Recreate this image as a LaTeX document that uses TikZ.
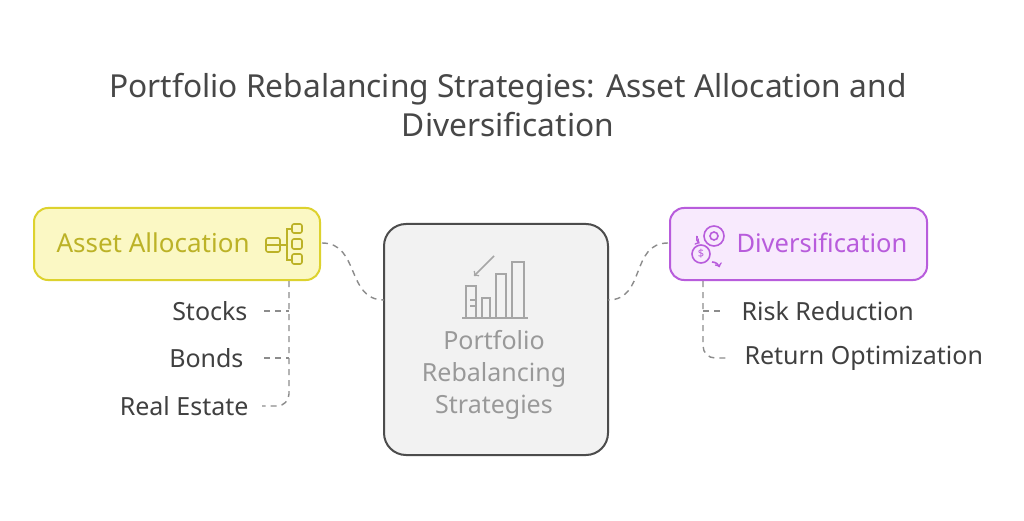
\documentclass[tikz,border=0pt]{standalone}
\usepackage{fontspec}
\setmainfont{Noto Sans}
\begin{document}
\begin{tikzpicture}[x=1pt,y=-1pt,
  lbl/.style={font=\fontsize{25}{27}\selectfont,text=black!75},
  conn/.style={draw=black!45,line width=1.4pt,dash pattern=on 6pt off 5pt},
  ic/.style={line width=1.6pt}]
\useasboundingbox[fill=white] (0,0) rectangle (1024,521);
\node[font=\fontsize{31.7}{39}\selectfont,text=black!72,align=center] (title) at (508,105) {Portfolio Rebalancing Strategies: Asset Allocation and\\Diversification};
\definecolor{yb}{HTML}{DDD22E}\definecolor{yf}{HTML}{FBF8C4}
\definecolor{pb}{HTML}{B85CDC}\definecolor{pf}{HTML}{F8EAFD}
\node[draw=yb,fill=yf,line width=2pt,rounded corners=14pt,minimum width=286pt,minimum height=72pt] (aa) at (177,244) {};
\node[font=\fontsize{26}{28}\selectfont,text=yb!85!black,anchor=west] (aat) at (53,243) {Asset Allocation};
\node[draw=black!70,fill=black!5,line width=2pt,rounded corners=22pt,minimum width=224pt,minimum height=231pt] (c) at (496,339.5) {};
\node[draw=pb,fill=pf,line width=2pt,rounded corners=14pt,minimum width=257pt,minimum height=72pt] (dv) at (798.5,244) {};
\node[font=\fontsize{25.5}{28}\selectfont,text=pb,anchor=west] (dvt) at (733,243) {Diversification};
\node[font=\fontsize{25}{32}\selectfont,text=black!40,align=center] (ct) at (494,375) {Portfolio\\Rebalancing\\Strategies};
% AA icon
\begin{scope}[draw=yb!85!black,ic]
\draw[rounded corners=2pt] (266,238) rectangle (280,252); \draw (266,245)--(280,245);
\draw (280,245)--(287,245); \draw (292,229)--(287,229)--(287,260)--(292,260);
\draw[rounded corners=2pt] (292,224) rectangle (302,233);\draw[rounded corners=2pt] (292,239) rectangle (302,249);\draw[rounded corners=2pt] (292,254) rectangle (302,264);
\end{scope}
% Div icon
\begin{scope}[draw=pb,ic]
\draw (714,236) circle (10); \draw (714,236) circle (4);
\draw (701,254) circle (9); \node[text=pb,font=\bfseries\fontsize{11}{11}\selectfont] (dl) at (701,254) {\$};
\draw[->] (697,236) arc (200:120:6);
\draw[->] (712,262) arc (-90:-20:8);
\end{scope}
% centre icon
\begin{scope}[draw=black!35,ic]
\draw (466,318)--(466,286)--(476,286)--(476,318);
\draw (482,318)--(482,298)--(490,298)--(490,318);
\draw (496,318)--(496,274)--(506,274)--(506,318);
\draw (512,318)--(512,262)--(524,262)--(524,318);
\draw (462,318)--(528,318);
\draw[->] (494,256)--(474,276);
\draw (470,300)--(476,300) (470,306)--(476,306);
\end{scope}
% connectors
\coordinate (a1) at (322,243); \coordinate (c1) at (384,300);
\draw[conn] (a1) .. controls (360,243) and (346,300) .. (c1);
\coordinate (d1) at (668,243); \coordinate (c2) at (608,300);
\draw[conn] (d1) .. controls (630,243) and (646,300) .. (c2);
\node[lbl,anchor=east] (s) at (251,311) {Stocks};
\node[lbl,anchor=east] (b) at (247,358) {Bonds};
\node[lbl,anchor=east] (r) at (252,406) {Real Estate};
\node[lbl,anchor=west] (rr) at (738,311) {Risk Reduction};
\node[lbl,anchor=west] (ro) at (741,358) {Return Optimization};
\coordinate (re) at (262,406); \coordinate (se) at (264,311); \coordinate (be) at (264,358);
\coordinate (rre) at (722,311); \coordinate (roe) at (730,358);
\draw[conn] (289,281) -- (289,394) arc (0:90:12) -- (re);
\draw[conn] (se) -- (289,311);
\draw[conn] (be) -- (289,358);
\draw[conn] (703,281) -- (703,346) arc (180:90:12) -- (roe);
\draw[conn] (703,311) -- (rre);
\end{tikzpicture}
\end{document}
